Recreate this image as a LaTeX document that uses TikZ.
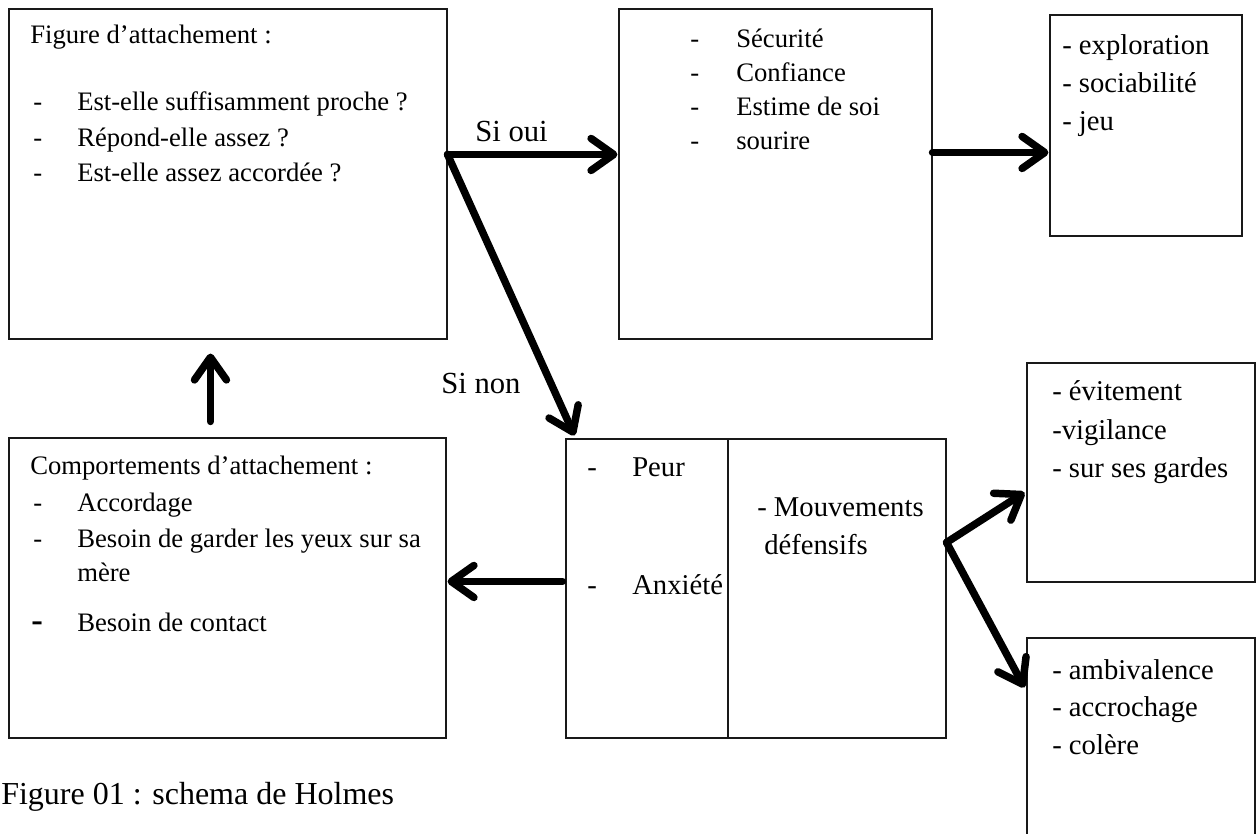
\documentclass[tikz,border=0pt]{standalone}
\usepackage{fontspec}
\setmainfont{Liberation Serif}
\usetikzlibrary{arrows.meta,fit,calc}
\begin{document}
\begin{tikzpicture}[x=0.75pt,y=-0.75pt,
  box/.style={draw=black!90, line width=0.8pt, inner sep=0pt},
  txt/.style={anchor=base west, inner sep=0pt, font=\fontsize{20}{24}\selectfont},
  txtb/.style={anchor=base west, inner sep=0pt, font=\fontsize{21.5}{26}\selectfont},
  lab/.style={anchor=base west, inner sep=0pt, font=\fontsize{23}{28}\selectfont},
  arr/.style={line width=5.6pt, line cap=round, line join=round,
    -{Straight Barb[length=17pt,width=24pt,line cap=round,line join=round]}}]
\useasboundingbox (0,0) rectangle (1257,834);

% boxes
\node[box, fit={(9,9) (447,339)}] (b1) {};
\node[box, fit={(619,9) (932,339)}] (b2) {};
\node[box, fit={(1050,15) (1242,236)}] (b3) {};
\node[box, fit={(566,439) (728,738)}] (b4a) {};
\node[box, fit={(728,439) (946,738)}] (b4b) {};
\node[box, fit={(9,438) (446,738)}] (b5) {};
\node[box, fit={(1027,363) (1255,582)}] (b6) {};
\node[box, fit={(1027,638) (1255,850)}] (b7) {};

% box 1 text
\node[txt] (t1) at (30,44) {Figure d’attachement :};
\node[txt] (t1d1) at (33,111) {-};
\node[txt] (t1a) at (77,111) {Est-elle suffisamment proche ?};
\node[txt] (t1d2) at (33,147) {-};
\node[txt] (t1b) at (77,147) {Répond-elle assez ?};
\node[txt] (t1d3) at (33,182) {-};
\node[txt] (t1c) at (77,182) {Est-elle assez accordée ?};

% box 2 text
\node[txt] (t2d1) at (690,48) {-};
\node[txt] (t2a) at (736,48) {Sécurité};
\node[txt] (t2d2) at (690,82) {-};
\node[txt] (t2b) at (736,82) {Confiance};
\node[txt] (t2d3) at (690,116) {-};
\node[txt] (t2c) at (736,116) {Estime de soi};
\node[txt] (t2d4) at (690,150) {-};
\node[txt] (t2e) at (736,150) {sourire};

% box 3 text
\node[txtb] (t3a) at (1062,55) {- exploration};
\node[txtb] (t3b) at (1062,93) {- sociabilité};
\node[txtb] (t3c) at (1062,131) {- jeu};

% peur box text
\node[txtb] (t4d1) at (587,476) {-};
\node[txtb] (t4a) at (632,476) {Peur};
\node[txtb] (t4d2) at (587,594) {-};
\node[txtb] (t4b) at (632,594) {Anxiété};
\node[txtb] (t4c) at (757,516) {- Mouvements};
\node[txtb] (t4e) at (764,554) {défensifs};

% comportements box text
\node[txt] (t5) at (30,474) {Comportements d’attachement :};
\node[txt] (t5d1) at (33,511) {-};
\node[txt] (t5a) at (77,511) {Accordage};
\node[txt] (t5d2) at (33,547) {-};
\node[txt] (t5b) at (77,547) {Besoin de garder les yeux sur sa};
\node[txt] (t5c) at (77,581) {mère};
\node[anchor=base west, inner sep=0pt, font=\fontsize{26}{30}\selectfont\bfseries] (t5d3) at (31,631) {-};
\node[txt] (t5e) at (77,631) {Besoin de contact};

% évitement box text
\node[txtb] (t6a) at (1052,401) {- évitement};
\node[txtb] (t6b) at (1052,439) {-vigilance};
\node[txtb] (t6c) at (1052,477) {- sur ses gardes};

% ambivalence box text
\node[txtb] (t7a) at (1052,679) {- ambivalence};
\node[txtb] (t7b) at (1052,716) {- accrochage};
\node[txtb] (t7c) at (1052,754) {- colère};

% labels
\node[lab] (oui) at (475,142) {Si oui};
\node[lab] (non) at (441,393) {Si non};
\node[anchor=base west, inner sep=0pt, font=\fontsize{24}{28}\selectfont] (cap) at (1,804) {Figure 01 : schema de Holmes};

% arrows
\draw[arr] ($(b1.north east)+(0,146)$) -- ($(b2.north west)+(-1,146)$);
\draw[arr] ($(b1.north east)+(0,146)$) -- ($(b4a.north west)+(9,-3)$);
\draw[arr] ($(b2.north east)+(0,144)$) -- ($(b3.north west)+(-1,138)$);
\draw[arr] ($(b5.north west)+(202,-16)$) -- ($(b1.south west)+(202,14)$);
\draw[arr] ($(b4a.north west)+(-3,143)$) -- ($(b5.north east)+(1,144)$);
\draw[arr] ($(b4b.north east)+(0,104)$) -- ($(b6.north west)+(-2,130)$);
\draw[arr] ($(b4b.north east)+(0,104)$) -- ($(b7.north west)+(-2,50)$);
\end{tikzpicture}
\end{document}
